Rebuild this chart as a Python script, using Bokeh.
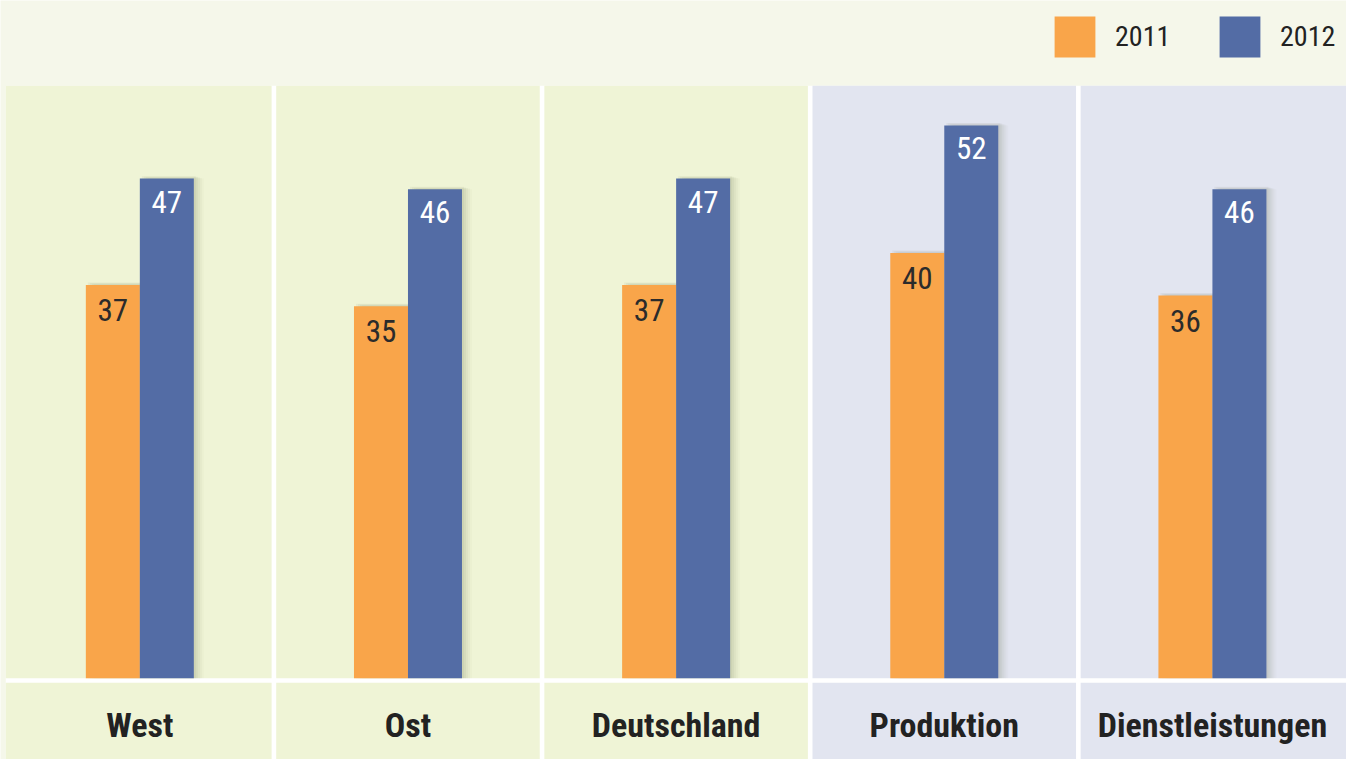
from bokeh.plotting import figure
from bokeh.models import Range1d, Legend, LegendItem
from bokeh.core.properties import value
from bokeh.embed import file_html
from bokeh.resources import INLINE

# ---- data ----
categories = ["West", "Ost", "Deutschland", "Produktion", "Dienstleistungen"]
panel_group = ["region", "region", "region", "sector", "sector"]
series_names = ["2011", "2012"]
values_2011 = [37, 35, 37, 40, 36]
values_2012 = [47, 46, 47, 52, 46]

# ---- style / geometry ----
W, H = 1346, 759
X_START, X_END = -0.0196, 5.0
Y_START, Y_END = -7.646, 63.75
PX_X = W / (X_END - X_START)   # px per category unit
PX_Y = H / (Y_END - Y_START)   # px per value unit
FONT = "Roboto Condensed, Roboto"
ORANGE = "#f9a54a"
BLUE = "#536ca5"
CREAM = "#f5f7ea"
GREEN = "#eff4d6"
LAVENDER = "#e2e5f0"
panel_colors = {"region": GREEN, "sector": LAVENDER}

p = figure(width=W, height=H, x_range=Range1d(X_START, X_END), y_range=Range1d(Y_START, Y_END),
           output_backend="svg", toolbar_location=None, min_border=0)
p.axis.visible = False
p.grid.visible = False
p.outline_line_color = None
p.background_fill_color = CREAM
p.border_fill_color = CREAM

px = lambda n: n / PX_X
py = lambda n: n / PX_Y
n = len(categories)
idx = list(range(n))
panel_top = 55.74

# white under-layer (visible as panel separators)
p.quad(left=[0], right=[X_END + 1], bottom=[Y_START - 1], top=[panel_top],
       fill_color="white", line_color=None)
# panels
gap = px(2.3)
p.quad(left=[i + gap if i > 0 else 0 for i in idx],
       right=[i + 1 - gap if i < n - 1 else X_END + 1 for i in idx],
       bottom=[Y_START - 1] * n, top=[panel_top] * n,
       fill_color=[panel_colors[g] for g in panel_group], line_color=None)
# baseline
p.quad(left=[0], right=[X_END + 1], bottom=[-0.42], top=[0],
       fill_color="white", line_color=None)

bw = px(54)
x11 = [i + 0.5 - bw / 2 for i in idx]
x12 = [i + 0.5 + bw / 2 for i in idx]

# soft shadows
for k, a in [(10, 0.025), (8, 0.035), (6, 0.045), (4, 0.055), (2, 0.06)]:
    for xs, vals in [(x11, values_2011), (x12, values_2012)]:
        p.vbar(x=[x + px(k) for x in xs], width=bw, top=[v + py(3) - py(k * 0.3) for v in vals],
               bottom=0, fill_color="#4f5438", fill_alpha=a, line_color=None)

r11 = p.vbar(x=x11, width=bw, top=values_2011, bottom=0, fill_color=ORANGE, line_color=None)
r12 = p.vbar(x=x12, width=bw, top=values_2012, bottom=0, fill_color=BLUE, line_color=None)

# value labels
p.text(x=x11, y=values_2011, text=[str(v) for v in values_2011], y_offset=25,
       text_align="center", text_baseline="alphabetic", text_font=value(FONT),
       text_font_size="31px", text_color="#2b2b2b")
p.text(x=x12, y=values_2012, text=[str(v) for v in values_2012], y_offset=23,
       text_align="center", text_baseline="alphabetic", text_font=value(FONT),
       text_font_size="31px", text_color="white")

# category labels
p.text(x=[i + 0.5 for i in idx], y=[0] * n, text=categories, y_offset=46.5,
       text_align="center", text_baseline="alphabetic", text_font=value(FONT),
       text_font_size="34px", text_font_style="bold", text_color="#222222")

legend = Legend(items=[LegendItem(label=series_names[0], renderers=[r11]),
                       LegendItem(label=series_names[1], renderers=[r12])],
                orientation="horizontal", location=(1049, 697),
                glyph_width=51, glyph_height=51, label_standoff=15, spacing=39,
                label_width=60, padding=0, margin=0,
                border_line_color=None, background_fill_alpha=0,
                label_text_font=FONT, label_text_font_size="28px", label_text_color="#222222")
p.add_layout(legend)

open("out.html", "w").write(file_html(p, INLINE))
